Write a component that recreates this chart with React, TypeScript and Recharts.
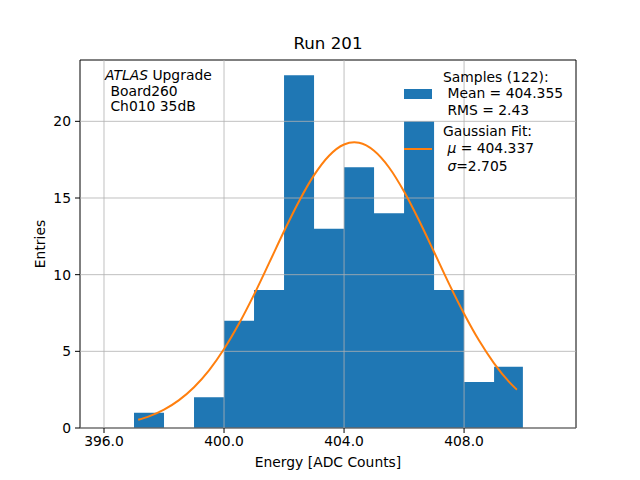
import React from 'react';
import {
  ComposedChart,
  Area,
  Line,
  XAxis,
  YAxis,
  ReferenceLine,
  ReferenceArea,
} from 'recharts';

// histogram bin edges (ADC counts) and entries per bin
const BIN_EDGES = [397.0, 398.0, 399.0, 400.0, 401.0, 402.0, 403.0, 404.0, 405.0, 406.0, 407.0, 408.0, 409.0, 409.96];
const BIN_COUNTS = [1, 0, 2, 7, 9, 23, 13, 17, 14, 20, 9, 3, 4];

// gaussian fit curve
const FIT_X = [397.14, 397.5, 398.0, 398.5, 399.0, 399.5, 400.0, 400.5, 401.0, 401.5, 402.0, 402.5, 403.0, 403.5, 404.0, 404.34, 404.5, 405.0, 405.5, 406.0, 406.5, 407.0, 407.5, 408.0, 408.5, 409.0, 409.5, 409.76];
const FIT_Y = [0.54, 0.76, 1.2, 1.82, 2.66, 3.76, 5.15, 6.81, 8.7, 10.75, 12.83, 14.79, 16.49, 17.76, 18.49, 18.63, 18.6, 18.08, 16.99, 15.42, 13.53, 11.48, 9.4, 7.45, 5.7, 4.22, 3.01, 2.5];

const X_TICKS = [396, 400, 404, 408];
const Y_TICKS = [0, 5, 10, 15, 20];
const X_DOMAIN = [395.2, 411.73];
const Y_DOMAIN = [0, 24];

const FONT = '"DejaVu Sans", sans-serif';
const FS = 13.89;
const BLUE = '#1f77b4';
const ORANGE = '#ff7f0e';

const histData = BIN_EDGES.map((x, i) => ({
  x,
  count: BIN_COUNTS[Math.min(i, BIN_COUNTS.length - 1)],
}));
const fitData = FIT_X.map((x, i) => ({ x, y: FIT_Y[i] }));

function Txt({ x, y, children, style }: { x: number; y: number; children: React.ReactNode; style?: React.CSSProperties }) {
  return (
    <div
      style={{
        position: 'absolute',
        left: x,
        top: y - 8,
        lineHeight: '16px',
        fontSize: FS,
        fontFamily: FONT,
        whiteSpace: 'pre',
        color: '#000',
        ...style,
      }}
    >
      {children}
    </div>
  );
}

export default function App() {
  const tick = { fill: '#000', fontSize: FS, fontFamily: FONT };
  return (
    <div style={{ position: 'absolute', left: 0, top: 0, width: 640, height: 480, background: '#fff' }}>
      <ComposedChart width={640} height={480} margin={{ top: 60, right: 64, bottom: 0, left: 0 }}>
        <XAxis
          dataKey="x"
          type="number"
          domain={X_DOMAIN}
          ticks={X_TICKS}
          allowDataOverflow
          height={52}
          axisLine={false}
          tickLine={{ stroke: '#000', strokeWidth: 1 }}
          tickSize={5}
          tickMargin={3}
          tick={tick}
          tickFormatter={(v: number) => v.toFixed(1)}
        />
        <YAxis
          type="number"
          domain={Y_DOMAIN}
          ticks={Y_TICKS}
          allowDataOverflow
          width={80}
          axisLine={false}
          tickLine={{ stroke: '#000', strokeWidth: 1 }}
          tickSize={5}
          tickMargin={4}
          tick={tick}
        />
        <Area
          data={histData}
          dataKey="count"
          type="stepAfter"
          stroke="none"
          fill={BLUE}
          fillOpacity={1}
          baseValue={0}
          isAnimationActive={false}
        />
        {X_TICKS.map((t) => (
          <ReferenceLine key={`gx-${t}`} x={t} stroke="#b0b0b0" strokeWidth={1} strokeOpacity={0.8} />
        ))}
        {Y_TICKS.map((t) => (
          <ReferenceLine key={`gy-${t}`} y={t} stroke="#b0b0b0" strokeWidth={1} strokeOpacity={0.8} />
        ))}
        <Line
          data={fitData}
          dataKey="y"
          type="monotone"
          stroke={ORANGE}
          strokeWidth={2}
          dot={false}
          isAnimationActive={false}
        />
        <ReferenceArea
          x1={X_DOMAIN[0]}
          x2={X_DOMAIN[1]}
          y1={Y_DOMAIN[0]}
          y2={Y_DOMAIN[1]}
          fill="none"
          fillOpacity={0}
          stroke="#000"
          strokeWidth={1}
        />
      </ComposedChart>

      <Txt x={0} y={44} style={{ width: 656, textAlign: 'center', fontSize: 16.67 }}>Run 201</Txt>
      <Txt x={0} y={462} style={{ width: 656, textAlign: 'center' }}>Energy [ADC Counts]</Txt>
      <div
        style={{
          position: 'absolute',
          left: 40,
          top: 244,
          transform: 'translate(-50%, -50%) rotate(-90deg)',
          fontSize: FS,
          fontFamily: FONT,
          whiteSpace: 'pre',
        }}
      >
        Entries
      </div>

      <Txt x={105} y={75}>
        <i>ATLAS</i> Upgrade
      </Txt>
      <Txt x={106} y={91}> Board260</Txt>
      <Txt x={106} y={106}> Ch010 35dB</Txt>

      <div style={{ position: 'absolute', left: 404, top: 89, width: 28, height: 10, background: BLUE }} />
      <Txt x={443} y={77}>Samples (122):</Txt>
      <Txt x={443} y={93}> Mean = 404.355</Txt>
      <Txt x={443} y={110}> RMS = 2.43</Txt>

      <div style={{ position: 'absolute', left: 404, top: 148, width: 28, height: 2, background: ORANGE }} />
      <Txt x={443} y={131}>Gaussian Fit:</Txt>
      <Txt x={443} y={148}>
        {' '}<i>μ</i> = 404.337
      </Txt>
      <Txt x={443} y={166}>
        {' '}<i>σ</i>=2.705
      </Txt>
    </div>
  );
}
